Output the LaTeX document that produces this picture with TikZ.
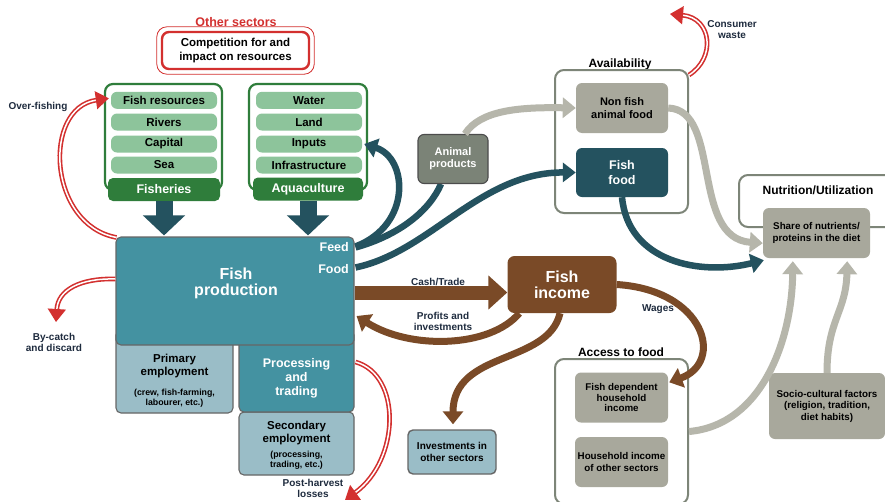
\documentclass[tikz,border=0pt]{standalone}
\usepackage{fontspec}
\setmainfont{Liberation Sans}
\usetikzlibrary{arrows.meta,positioning,calc}

\definecolor{leaf}{HTML}{8DC49B}
\definecolor{forest}{HTML}{2F7D3B}
\definecolor{sea}{HTML}{4492A1}
\definecolor{deep}{HTML}{24525F}
\definecolor{pale}{HTML}{9ABDC7}
\definecolor{bark}{HTML}{7A4A27}
\definecolor{stone}{HTML}{A8A89C}
\definecolor{ash}{HTML}{B6B6AB}
\definecolor{moss}{HTML}{7B8377}
\definecolor{frame}{HTML}{7D8578}
\definecolor{loss}{HTML}{D3302F}
\definecolor{ink}{HTML}{1E2B3E}

\begin{document}
\begin{tikzpicture}[x=1pt,y=-1pt,
	every node/.style={inner sep=0pt, align=center},
	resitem/.style={fill=leaf, rounded corners=6pt, minimum width=106pt, minimum height=17pt, font=\fontsize{11.5}{13}\selectfont\bfseries},
	sectorbar/.style={fill=forest, text=white, rounded corners=5pt, minimum height=23pt, font=\fontsize{12.5}{14}\selectfont\bfseries},
	sectorframe/.style={draw=forest, line width=2.2pt, rounded corners=8pt},
	tealbox/.style={fill=sea, draw=black!60, line width=1.1pt, rounded corners=5pt, text=white},
	palebox/.style={fill=pale, draw=black!60, line width=1.1pt, rounded corners=5pt},
	stonebox/.style={fill=stone, rounded corners=6pt, font=\fontsize{9.8}{11.5}\selectfont\bfseries},
	panel/.style={draw=frame, line width=2pt, rounded corners=9pt},
	paneltitle/.style={font=\fontsize{12}{13}\selectfont\bfseries},
	note/.style={text=ink, font=\fontsize{10}{11}\selectfont\bfseries},
	blockarrow/.style={deep, line width=17pt, -{Triangle[length=20pt,width=41pt]}},
	feedflow/.style={deep, line width=6.5pt, -{Triangle[length=13pt,width=19pt]}},
	ashflow/.style={ash, line width=7pt, -{Triangle[length=13pt,width=20pt]}},
	cashflow/.style={bark, line width=7pt, -{Triangle[length=13pt,width=20pt]}},
	drop/.style={draw=loss, double=white, line width=1.6pt, double distance=1.5pt, -{Triangle[length=13pt,width=18pt]}}
	]
	\fill[white] (0,0) rectangle (885,501);
	\useasboundingbox (0,0) rectangle (885,501);

	% other sectors
	\node[text=loss, font=\fontsize{12.5}{14}\selectfont\bfseries] (othr) at (236,22) {Other sectors};
	\node[draw=loss, line width=2.4pt, rounded corners=7pt, minimum width=147pt, minimum height=37pt,
		font=\fontsize{11.5}{13.3}\selectfont\bfseries] (rival) at (235.5,50.5) {Competition for and\\impact on resources};
	\draw[loss, line width=0.8pt, rounded corners=10pt] ($(rival.north west)+(-4,-4)$) rectangle ($(rival.south east)+(4,4)$);

	% fisheries
	\node[sectorframe, minimum width=117pt, minimum height=106pt] (fishgrp) at (163.5,137) {};
	\node[resitem] (fres) at (164,100.3) {Fish resources};
	\node[resitem] (rivers) at (164,122) {Rivers};
	\node[resitem] (capital) at (164,144) {Capital};
	\node[resitem] (sea) at (164,165) {Sea};
	\node[sectorbar, minimum width=112pt] (fishbar) at (164,189.5) {Fisheries};

	% aquaculture
	\node[sectorframe, minimum width=118pt, minimum height=106pt] (aquagrp) at (308,137) {};
	\node[resitem] (water) at (309,100.3) {Water};
	\node[resitem] (land) at (309,122) {Land};
	\node[resitem] (inputs) at (309,144) {Inputs};
	\node[resitem] (infra) at (309,165) {Infrastructure};
	\node[sectorbar, minimum width=110pt] (aquabar) at (308,189) {Aquaculture};

	% fish production and employment
	\node[palebox, minimum width=117pt, minimum height=83pt] (primary) at (174.5,371.5) {};
	\node[font=\fontsize{11.5}{13}\selectfont\bfseries] (primlbl) at (174.5,366) {Primary\\employment};
	\node[font=\fontsize{8.8}{10}\selectfont\bfseries] (primsub) at (174.5,398) {(crew, fish-farming,\\labourer, etc.)};
	\node[palebox, minimum width=115pt, minimum height=63pt] (second) at (296.5,443.5) {};
	\node[font=\fontsize{11.5}{13}\selectfont\bfseries] (seclbl) at (296.5,433.5) {Secondary\\employment};
	\node[font=\fontsize{8.8}{9.5}\selectfont\bfseries] (secsub) at (296.5,460) {(processing,\\trading, etc.)};
	\node[tealbox, minimum width=115pt, minimum height=82pt] (process) at (296.5,371) {};
	\node[text=white, font=\fontsize{12.5}{14}\selectfont\bfseries] (proclbl) at (296.5,378) {Processing\\and\\trading};
	\node[tealbox, minimum width=238pt, minimum height=108pt] (prod) at (235,291) {};
	\node[text=white, font=\fontsize{16}{16}\selectfont\bfseries] (prodlbl) at (236,283) {Fish\\production};
	\node[text=white, anchor=east, font=\fontsize{12.5}{14}\selectfont\bfseries] (feed) at (349,247) {Feed};
	\node[text=white, anchor=east, font=\fontsize{12.5}{14}\selectfont\bfseries] (food) at (349,269) {Food};

	\draw[blockarrow] (fishbar.south) -- ($(fishbar.south |- prod.north)+(0,-1)$);
	\draw[blockarrow] (aquabar.south) -- ($(aquabar.south |- prod.north)+(0,-1)$);

	% losses
	\draw[drop] ($(prod.north west)+(1,1)$) .. controls (48,225) and (42,108) .. ($(fres.west)+(-2,-2)$);
	\node[note] (overfish) at (38,107) {Over-fishing};
	\draw[drop] ($(prod.west)+(0,-12)$) .. controls (80,278) and (58,290) .. (56,322);
	\node[note] (bycatch) at (54,342) {By-catch\\and discard};
	\draw[drop] ($(process.east)+(1,-9)$) .. controls (402,375) and (400,460) .. (345,500);
	\node[note] (postharv) at (313,488) {Post-harvest\\losses};

	% animal products
	\coordinate (animalfoot) at (441,184);
	\draw[deep, line width=6.5pt] ($(prod.north east)+(1,11)$) .. controls (400,235) and (430,210) .. (animalfoot);
	\node[fill=moss, draw=black!70, line width=1.1pt, rounded corners=6pt, minimum width=70pt, minimum height=49pt,
		text=white, font=\fontsize{11}{12.3}\selectfont\bfseries] (animal) at (453,159) {Animal\\products};

	% availability
	\node[paneltitle] (availtitle) at (620,64) {Availability};
	\node[panel, minimum width=133pt, minimum height=143pt] (avail) at (621.5,141.5) {};
	\node[stonebox, minimum width=92pt, minimum height=50pt, font=\fontsize{11}{12.3}\selectfont\bfseries] (nonfish) at (622,108) {Non fish\\animal food};
	\node[fill=deep, rounded corners=6pt, minimum width=92pt, minimum height=49pt, text=white,
		font=\fontsize{12.5}{14.3}\selectfont\bfseries] (fishfood) at (622,172.5) {Fish\\food};

	% nutrition
	\node[panel, fill=white, minimum width=160pt, minimum height=52pt] (nutri) at (819,201) {};
	\node[paneltitle] (nutrititle) at (818,190) {Nutrition/Utilization};
	\node[stonebox, font=\fontsize{9.8}{12}\selectfont\bfseries, minimum width=107pt, minimum height=50pt] (share) at (816.5,233) {Share of nutrients/\\proteins in the diet};

	% fish income
	\node[fill=bark, rounded corners=7pt, minimum width=109pt, minimum height=57pt, text=white,
		font=\fontsize{16}{16}\selectfont\bfseries] (income) at (562,284.5) {Fish\\income};
	\draw[bark, line width=14pt, -{Triangle[length=19pt,width=33pt]}] (prod.east |- income.west) ++(0,8) -- ($(income.west)+(0,8)$);
	\node[note] (cashlbl) at (438,282) {Cash/Trade};
	\draw[cashflow] ($(income.south west)+(12,0)$) .. controls (490,348) and (410,350) .. ($(prod.east)+(2,25)$);
	\node[note] (profitlbl) at (443,321) {Profits and\\investments};
	\node[palebox, line width=1.4pt, minimum width=88pt, minimum height=44pt,
		font=\fontsize{10}{11.5}\selectfont\bfseries] (invest) at (452,452) {Investments in\\other sectors};
	\draw[cashflow] ($(income.south)+(-2,0)$) .. controls (548,365) and (453,350) .. ($(invest.north)+(1,-5)$);

	% access to food
	\node[paneltitle] (accesstitle) at (621,352) {Access to food};
	\node[panel, minimum width=133pt, minimum height=145pt] (access) at (621.5,431.5) {};
	\node[stonebox, font=\fontsize{9.8}{10.5}\selectfont\bfseries, minimum width=93pt, minimum height=50pt] (fishdep) at (621.5,397.5) {Fish dependent\\household\\income};
	\node[stonebox, minimum width=93pt, minimum height=50pt] (otherinc) at (621.5,462) {Household income\\of other sectors};
	\draw[cashflow] (income.east) .. controls (705,290) and (725,362) .. ($(fishdep.north east)+(1,10)$);
	\node[note] (wageslbl) at (658,309) {Wages};

	% socio-cultural
	\node[stonebox, minimum width=116pt, minimum height=66pt] (socio) at (827,406) {Socio-cultural factors\\(religion, tradition,\\diet habits)};

	% flows to the diet
	\draw[ashflow] ($(animal.north)+(12,0)$) .. controls (480,110) and (520,107) .. (nonfish.west);
	\draw[ashflow] (nonfish.east) .. controls (722,110) and (690,238) .. ($(share.south west)+(0,-15)$);
	\draw[ashflow] (access.east) .. controls (762,425) and (792,340) .. ($(share.south west)+(30,3)$);
	\draw[ashflow] (socio.north) .. controls (827,320) and (846,312) .. ($(share.south east)+(-23,3)$);
	\draw[feedflow] ($(prod.north east)+(1,10)$) .. controls (412,225) and (408,158) .. ($(inputs.east)+(2,0)$);
	\draw[feedflow] ($(prod.north east)+(1,31)$) .. controls (430,252) and (480,172) .. (fishfood.west);
	\draw[feedflow] (fishfood.south) .. controls (628,262) and (700,276) .. ($(share.south west)+(1,2)$);
	\draw[drop] ($(avail.north east)+(0,6)$) .. controls (716,58) and (712,18) .. (670,14);
	\node[note] (wastelbl) at (732,30) {Consumer\\waste};
\end{tikzpicture}
\end{document}
